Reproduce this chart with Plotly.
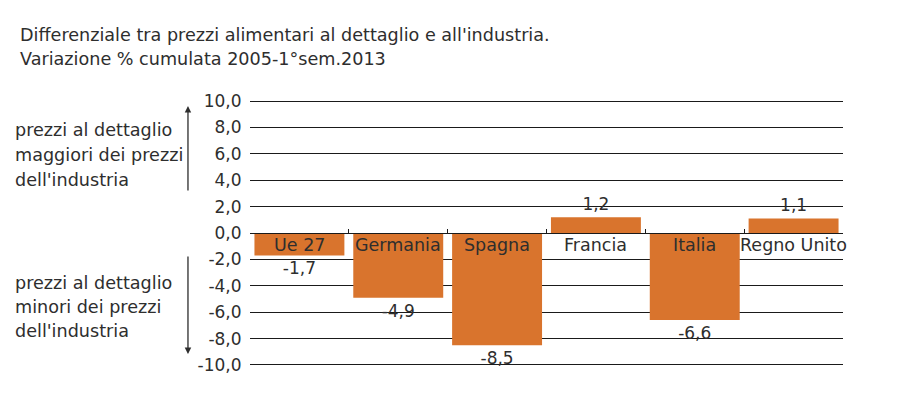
import plotly.graph_objects as go

categories = ["Ue 27", "Germania", "Spagna", "Francia", "Italia", "Regno Unito"]
values = [-1.7, -4.9, -8.5, 1.2, -6.6, 1.1]
value_labels = ["-1,7", "-4,9", "-8,5", "1,2", "-6,6", "1,1"]
y_ticks = [10, 8, 6, 4, 2, 0, -2, -4, -6, -8, -10]
y_tick_labels = ["10,0", "8,0", "6,0", "4,0", "2,0", "0,0", "-2,0", "-4,0", "-6,0", "-8,0", "-10,0"]

title_lines = ["Differenziale tra prezzi alimentari al dettaglio e all'industria.",
               "Variazione % cumulata 2005-1°sem.2013"]
note_up = ["prezzi al dettaglio", "maggiori dei prezzi", "dell'industria"]
note_down = ["prezzi al dettaglio", "minori dei prezzi", "dell'industria"]

FONT = "DejaVu Sans"
TXT = "#2e2e2e"
BAR = "#D9742D"

fig = go.Figure()
fig.add_trace(go.Bar(
    x=categories, y=values,
    marker=dict(color=BAR, line=dict(width=0)),
    text=value_labels, textposition="outside",
    textfont=dict(family=FONT, size=17, color=TXT),
    cliponaxis=False, width=0.91,
))

for c in categories:
    fig.add_annotation(x=c, y=0, text=c, showarrow=False, yanchor="middle",
                       yshift=-12, font=dict(family=FONT, size=17.5, color=TXT))

def add_line(text, x, y, size=17.6):
    fig.add_annotation(xref="paper", yref="paper", x=x, y=y, text=text, showarrow=False,
                       xanchor="left", yanchor="middle", align="left",
                       font=dict(family=FONT, size=size, color=TXT))

# title
for txt, yy in zip(title_lines, [1.2444, 1.1541]):
    add_line(txt, -232/593, yy)
# side notes
for txt, yy in zip(note_up, [0.8872, 0.7932, 0.6992]):
    add_line(txt, -0.3997, yy)
for txt, yy in zip(note_down, [0.3120, 0.2218, 0.1316]):
    add_line(txt, -0.3997, yy)
# arrows
fig.add_annotation(xref="paper", yref="paper", x=-0.1046, y=0.9774, ax=0, ay=86,
                   axref="pixel", ayref="pixel", text="", showarrow=True,
                   arrowhead=2, arrowsize=1, arrowwidth=1.3, arrowcolor=TXT)
fig.add_annotation(xref="paper", yref="paper", x=-0.1046, y=0.0451, ax=0, ay=-99,
                   axref="pixel", ayref="pixel", text="", showarrow=True,
                   arrowhead=2, arrowsize=1, arrowwidth=1.3, arrowcolor=TXT)

fig.update_layout(
    width=892, height=400,
    margin=dict(l=242, r=57, t=92, b=42),
    paper_bgcolor="white", plot_bgcolor="white",
    showlegend=False,
    font=dict(family=FONT, color=TXT),
    bargap=0.09,
)
fig.update_yaxes(range=[-10.08, 10.08], tickvals=y_ticks, ticktext=y_tick_labels,
                 showgrid=True, gridcolor="#1a1a1a", gridwidth=1.2,
                 zeroline=True, zerolinecolor="#1a1a1a", zerolinewidth=1.2,
                 showline=False, ticks="outside", ticklen=4, tickcolor="rgba(0,0,0,0)",
                 tickfont=dict(family=FONT, size=17, color=TXT))
fig.update_xaxes(anchor="free", position=0.5, showgrid=False, showline=True,
                 linecolor="#1a1a1a", linewidth=1.2, ticks="inside", ticklen=4,
                 tickson="boundaries", tickcolor="#1a1a1a", showticklabels=False,
                 range=[-0.5, 5.5])

fig.write_html("out.html")
